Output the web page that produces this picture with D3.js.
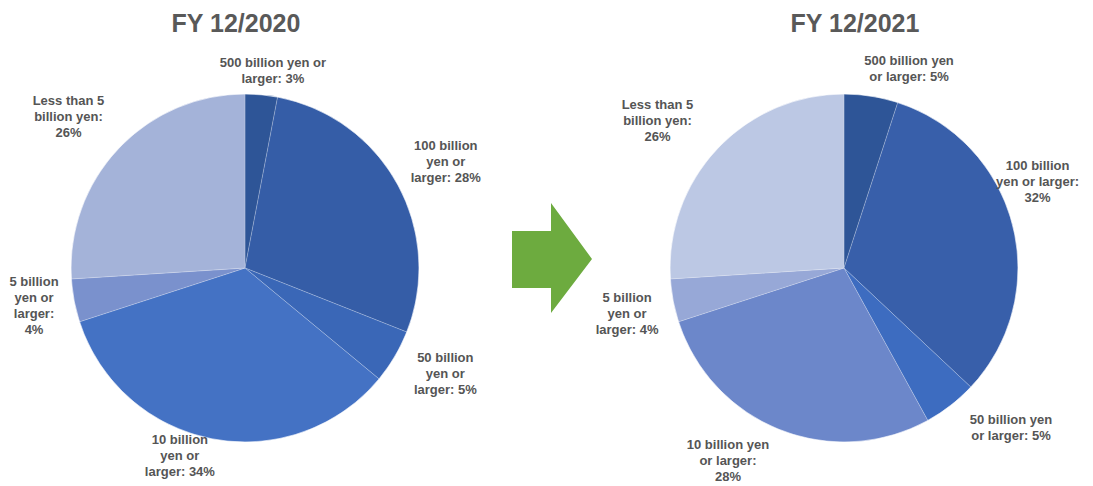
<!DOCTYPE html>
<html><head><meta charset="utf-8">
<script src="https://cdn.jsdelivr.net/npm/d3@7"></script>
<style>
html,body{margin:0;padding:0;background:#fff;}
svg{display:block;}
</style></head>
<body>
<script>
// ---- data ----
const categories = ["500 billion yen or larger","100 billion yen or larger","50 billion yen or larger","10 billion yen or larger","5 billion yen or larger","Less than 5 billion yen"];
const years = ["FY 12/2020","FY 12/2021"];
const values2020 = [3,28,5,34,4,26];
const values2021 = [5,32,5,28,4,26];
// label line breaks ({v} = value)
const labelLines2020 = [["500 billion yen or","larger: {v}%"],["100 billion","yen or","larger: {v}%"],["50 billion","yen or","larger: {v}%"],["10 billion","yen or","larger: {v}%"],["5 billion","yen or","larger:","{v}%"],["Less than 5","billion yen:","{v}%"]];
const labelLines2021 = [["500 billion yen","or larger: {v}%"],["100 billion","yen or larger:","{v}%"],["50 billion yen","or larger: {v}%"],["10 billion yen","or larger:","{v}%"],["5 billion","yen or","larger: {v}%"],["Less than 5","billion yen:","{v}%"]];

// ---- style / layout ----
const colors2020 = ["#2E5597","#355DA7","#3A67B7","#4472C4","#7A91CD","#A4B3D9"];
const colors2021 = ["#2E5597","#385FAA","#3D6CC0","#6C87CA","#97A8D7","#BCC8E4"];
const labelNudge2020 = [[6,-4],[13,-9],[19,2],[-25,-11],[-11,-2],[-20,-13]];
const labelNudge2021 = [[30,-7],[-20,-36],[32,6],[-35,4],[-10,8],[-30,-9]];

const W = 1093, H = 486;
const R = 174, GAP = 5;
const centers = [[245,268],[844,268]];
const titleX = [236,855];
const lineH = 16;

const svg = d3.select("body").append("svg").attr("width",W).attr("height",H)
  .style("font-family","'Liberation Sans', Arial, sans-serif");

const pie = d3.pie().sort(null).value(d=>d);
const arc = d3.arc().innerRadius(0).outerRadius(R);

const sets = [
  {title: years[0], values: values2020, lines: labelLines2020, colors: colors2020, nudge: labelNudge2020},
  {title: years[1], values: values2021, lines: labelLines2021, colors: colors2021, nudge: labelNudge2021}
];

sets.forEach((s,i)=>{
  const [cx,cy] = centers[i];
  svg.append("text").attr("x",titleX[i]).attr("y",32).attr("text-anchor","middle")
    .attr("font-size",25).attr("font-weight","bold").attr("fill","#595959").text(s.title);

  const g = svg.append("g").attr("transform",`translate(${cx},${cy})`);
  const arcs = pie(s.values);
  g.selectAll("path").data(arcs).join("path")
    .attr("d",arc).attr("fill",(d,j)=>s.colors[j])
    .attr("stroke","#ffffff").attr("stroke-opacity",0.35).attr("stroke-width",0.6);
  g.append("circle").attr("r",R).attr("fill","none").attr("stroke","#ffffff").attr("stroke-opacity",0.5).attr("stroke-width",1);

  arcs.forEach((d,j)=>{
    const a = (d.startAngle+d.endAngle)/2;
    const ux = Math.sin(a), uy = -Math.cos(a);
    const lines = s.lines[j].map(t=>t.replace("{v}", s.values[j]));
    const t = svg.append("text").attr("text-anchor","middle")
      .attr("font-size",13).attr("font-weight","bold").attr("fill","#555555");
    lines.forEach((ln,k)=>{
      t.append("tspan").attr("x",0).attr("y",k*lineH).text(ln);
    });
    const bb = t.node().getBBox();
    const w = bb.width, h = bb.height;
    const px = cx + ux*(R+GAP), py = cy + uy*(R+GAP);
    const bx = px + ux*w/2 + s.nudge[j][0];
    const by = py + uy*h/2 + s.nudge[j][1];
    const offY = by - (bb.y + h/2);
    t.attr("transform",`translate(${bx},${offY})`);
  });
});

// arrow between the pies
const arrowPts = [[512,231],[551,231],[551,203],[592,259],[551,313],[551,288],[512,288]];
svg.append("path").attr("d", d3.line()(arrowPts)+"Z").attr("fill","#6DAB3F");
</script>
</body></html>
